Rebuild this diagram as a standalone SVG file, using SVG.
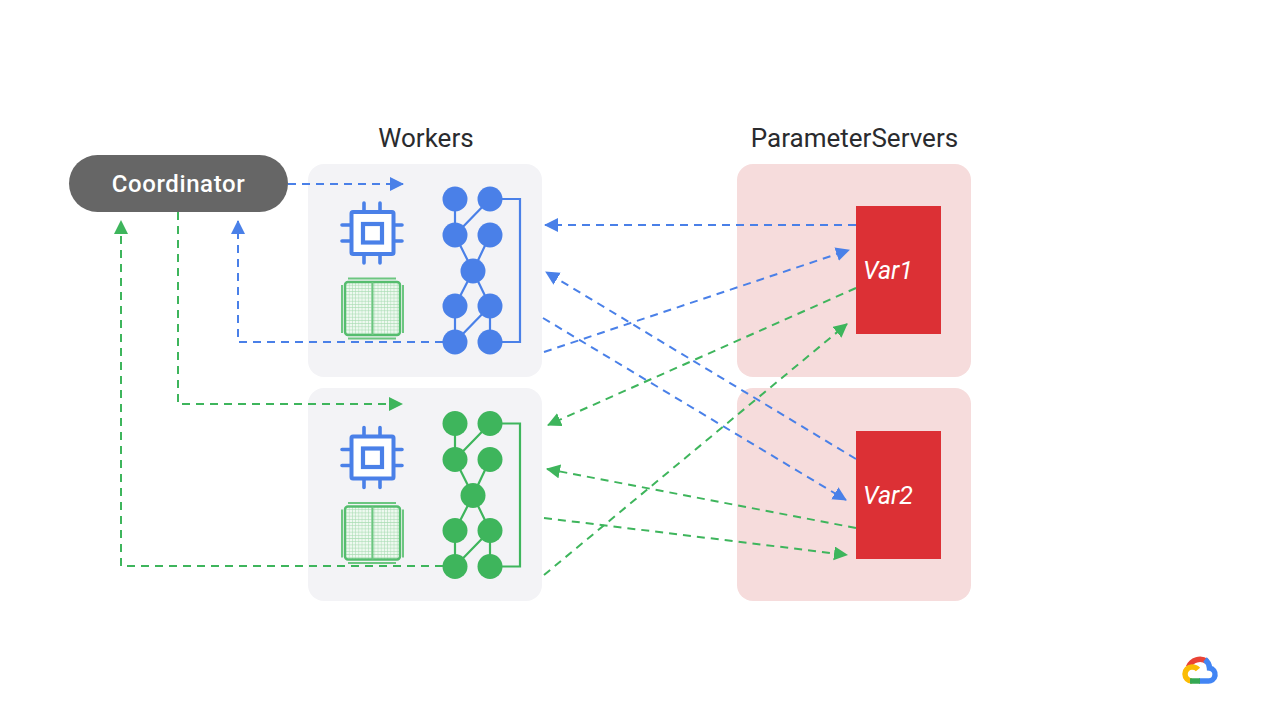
<svg xmlns="http://www.w3.org/2000/svg" width="1280" height="720" viewBox="0 0 1280 720">
<style>
text{font-family:"Roboto","Liberation Sans",sans-serif}
.title{font-size:26px;fill:#2a2b2e;text-anchor:middle}
.var{font-size:25px;font-style:italic;fill:#fff}
.worker{fill:#f3f3f6}
.ps{fill:#f6dcdc}
.box{fill:#dc3035}
.conn{fill:none;stroke-width:2;stroke-dasharray:8 6}
.b{stroke:#4a80e8;color:#4a80e8}
.g{stroke:#3eb55c;color:#3eb55c}
.edge{fill:none;stroke:currentColor;stroke-width:2.2}
.dot{fill:currentColor}
</style>
<defs>
<marker id="ab" markerUnits="userSpaceOnUse" markerWidth="15" markerHeight="15" refX="13" refY="7" orient="auto"><path d="M0 0L14 7L0 14Z" fill="#4a80e8"/></marker>
<marker id="ag" markerUnits="userSpaceOnUse" markerWidth="15" markerHeight="15" refX="13" refY="7" orient="auto"><path d="M0 0L14 7L0 14Z" fill="#3eb55c"/></marker>
<pattern id="grid" patternUnits="userSpaceOnUse" width="3.2" height="3.2"><rect width="3.2" height="3.2" fill="#eef9f0"/><path d="M0 0H3.2M0 0V3.2" stroke="#a8dcb2" stroke-width="1"/></pattern>
<g id="net">
<path class="edge" d="M490 199H520V342H490M455 199V235M490 199L455 235M455 235L473 271M490 235L473 271M473 271L455 306M473 271L490 306M455 306V342M490 306L455 342M490 306V342"/>
<circle class="dot" cx="455" cy="199" r="12.5"/><circle class="dot" cx="490" cy="199" r="12.5"/>
<circle class="dot" cx="455" cy="235" r="12.5"/><circle class="dot" cx="490" cy="235" r="12.5"/>
<circle class="dot" cx="473" cy="271" r="12.5"/>
<circle class="dot" cx="455" cy="306" r="12.5"/><circle class="dot" cx="490" cy="306" r="12.5"/>
<circle class="dot" cx="455" cy="342" r="12.5"/><circle class="dot" cx="490" cy="342" r="12.5"/>
</g>
<g id="cpu">
<path d="M364 203V263M380 203V263M342 225H402M342 241H402" fill="none" stroke="#4a80e8" stroke-width="3.6" stroke-linecap="round"/>
<rect x="351.500" y="212" width="42" height="42" fill="#fff" stroke="#4a80e8" stroke-width="4" rx="1.5"/>
<rect x="363" y="224" width="19" height="18.500" fill="#fff" stroke="#4a80e8" stroke-width="4.2"/>
</g>
<g id="tpu">
<rect x="345" y="282" width="55" height="53" rx="3" fill="url(#grid)" stroke="#55bd6e" stroke-width="2.4"/>
<path d="M372.5 282V335M348 278.500H396M348 338.500H396M342 285V333M403 285V333" fill="none" stroke="#6cc680" stroke-width="2"/>
</g>
</defs>

<g id="worker-1"><rect class="worker" x="308" y="164" width="234" height="213" rx="16"/><use href="#cpu"/><use href="#tpu"/><g class="b" style="stroke:none"><use href="#net"/></g></g>
<g id="worker-2"><rect class="worker" x="308" y="388" width="234" height="213" rx="16"/><use href="#cpu" y="224.500"/><use href="#tpu" y="224.500"/><g class="g" style="stroke:none"><use href="#net" y="224.500"/></g></g>
<g id="ps-1"><rect class="ps" x="737" y="164" width="234" height="213" rx="16"/><rect class="box" x="856" y="206" width="85" height="128"/><text class="var" x="863" y="279">Var1</text></g>
<g id="ps-2"><rect class="ps" x="737" y="388" width="234" height="213" rx="16"/><rect class="box" x="856" y="431" width="85" height="128"/><text class="var" x="863" y="504">Var2</text></g>
<g id="coordinator"><rect x="69" y="155" width="219" height="57" rx="28.500" fill="#666"/><text x="178.500" y="192" text-anchor="middle" font-size="24" font-weight="500" letter-spacing=".6" fill="#fff">Coordinator</text></g>
<text class="title" x="426" y="147">Workers</text>
<text class="title" x="854.500" y="147">ParameterServers</text>

<g id="connectors">
<g class="conn b" marker-end="url(#ab)">
<path d="M288 184H403"/>
<path d="M443 342H238V221"/>
<path d="M856 225H545"/>
<path d="M856 459L546 272"/>
<path d="M543 318L846 500"/>
<path d="M544 352L849 250"/>
</g>
<g class="conn g" marker-end="url(#ag)">
<path d="M178 212V404H402"/>
<path d="M443 566H121V221"/>
<path d="M856 288L548 425"/>
<path d="M856 528L547 469"/>
<path d="M544 518L847 555"/>
<path d="M544 575L847 324"/>
</g>
</g>

<g id="logo" fill="none" stroke-width="5.5">
<path d="M1188.500 667A12.500 12.500 0 0 1 1207 661.500" stroke="#ea4335"/>
<path d="M1205 659.500A12 12 0 0 1 1209.500 668A6.500 6.500 0 0 1 1207.500 681H1199" stroke="#4285f4"/>
<path d="M1192 667A7 7 0 0 0 1192 681" stroke="#fbbc05"/>
<path d="M1192 667Q1196 667 1198 669.500" stroke="#fbbc05"/>
<path d="M1200 681H1190" stroke="#34a853"/>
</g>
</svg>
